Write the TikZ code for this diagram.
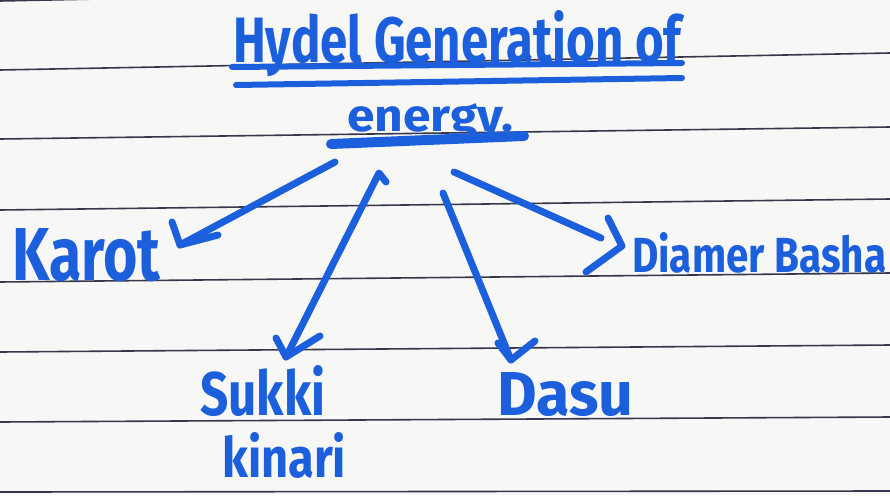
\documentclass[tikz,border=0pt]{standalone}
\usepackage{fontspec}
\newfontfamily\hand{Fira Sans}
\definecolor{paper}{RGB}{247,247,245}
\definecolor{ruling}{RGB}{55,55,75}
\definecolor{ink}{RGB}{28,95,220}
\tikzset{
  rule/.style={draw=ruling, line width=1.6pt},
  hw/.style={text=ink, inner sep=0pt, anchor=base west, font=\hand\bfseries},
  pen/.style={draw=ink, line width=7pt, line cap=round, line join=round},
  thickpen/.style={draw=ink, line width=8pt, line cap=round, line join=round}
}
\begin{document}
\begin{tikzpicture}[x=1pt,y=-1pt]
\fill[paper] (0,0) rectangle (890,495);
\useasboundingbox (0,0) rectangle (890,495);
\clip (0,0) rectangle (890,495);
% ruled paper
\foreach \l/\r in {1/-17, 70/53, 139/127, 210/199, 282/273, 352/345, 422/417, 492/491}
  \draw[rule] (0,\l) -- (890,\r);
% title
\node[hw] (title) at (233,63) {\resizebox{448pt}{52pt}{Hydel Generation of}};
\node[hw] (energy) at (347,131) {\resizebox{166pt}{28pt}{energy.}};
\coordinate (u1a) at (232,67); \coordinate (u1b) at (682,63);
\coordinate (u2a) at (236,85); \coordinate (u2b) at (682,78);
\coordinate (u3a) at (331,144); \coordinate (u3b) at (524,136);
\draw[pen, line width=6pt] (u1a) -- (u1b);
\draw[pen, line width=6pt] (u2a) -- (u2b);
\draw[thickpen, line width=10pt] (u3a) -- (u3b);
% labels
\node[hw] (karot) at (12,280) {\resizebox{148pt}{52pt}{Karot}};
\node[hw] (diamer) at (632,272) {\resizebox{254pt}{40pt}{Diamer Basha}};
\node[hw] (sukki) at (200,415) {\resizebox{125pt}{50pt}{Sukki}};
\node[hw] (kinari) at (222,477) {\resizebox{124pt}{45pt}{kinari}};
\node[hw] (dasu) at (497,415) {\resizebox{136pt}{43pt}{Dasu}};
% arrow to Karot
\coordinate (kT) at (335,162); \coordinate (kH) at (180,245);
\coordinate (kB1) at (172,222); \coordinate (kB2) at (218,235);
\draw[pen] (kT) -- (kH);
\draw[pen] (kB1) -- (kH) -- (kB2);
% arrow to Sukki kinari
\coordinate (sT0) at (386,182); \coordinate (sT) at (379,173); \coordinate (sH) at (286,357);
\coordinate (sB1) at (276,338); \coordinate (sB2) at (320,336);
\draw[pen] (sT0) -- (sT) -- (sH);
\draw[pen] (sB1) -- (sH) -- (sB2);
% arrow to Dasu
\coordinate (dT) at (443,193); \coordinate (dH) at (511,360);
\coordinate (dB1) at (498,343); \coordinate (dB2) at (535,341);
\draw[pen] (dT) -- (dH);
\draw[pen] (dB1) -- (dH) -- (dB2);
% arrow to Diamer Basha
\coordinate (bT) at (454,172); \coordinate (bE) at (601,238);
\coordinate (bB1) at (608,218); \coordinate (bH) at (622,246); \coordinate (bB2) at (586,272);
\draw[pen] (bT) -- (bE);
\draw[pen] (bB1) -- (bH) -- (bB2);
\end{tikzpicture}
\end{document}
